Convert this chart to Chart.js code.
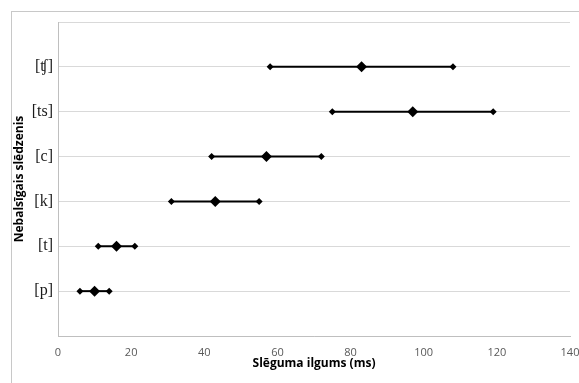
<!DOCTYPE html>
<html>
<head>
<meta charset="utf-8">
<script src="https://cdn.jsdelivr.net/npm/chart.js@4"></script>
<style>
  html, body { margin: 0; padding: 0; background: #fff; overflow: hidden; }
  #frame { position: absolute; left: 11px; top: 11px; width: 620px; height: 420px; border: 1px solid #c8c8c8; }
  #wrap { position: absolute; left: 0; top: 0; width: 579px; height: 383px; }
</style>
</head>
<body>
<div id="frame"></div>
<div id="wrap"><canvas id="c"></canvas></div>
<script>
  // bottom to top
  var categories = ['[p]', '[t]', '[k]', '[c]', '[ts]', '[ʧ]']
  var minVals = [6, 11, 31, 42, 75, 58]
  var meanVals = [10, 16, 43, 57, 97, 83]
  var maxVals = [14, 21, 55, 72, 119, 108]
  var xTicks = [0, 20, 40, 60, 80, 100, 120, 140]

  var datasets = categories.map(function (cat, i) {
    return {
      label: cat,
      showLine: true,
      borderColor: '#000',
      backgroundColor: '#000',
      borderWidth: 2,
      pointStyle: 'rectRot',
      pointRadius: [3.5, 5.5, 3.5],
      pointBorderWidth: 0,
      data: [
        { x: minVals[i], y: i + 1 },
        { x: meanVals[i], y: i + 1 },
        { x: maxVals[i], y: i + 1 },
      ],
    }
  })

  new Chart(document.getElementById('c'), {
    type: 'scatter',
    data: { datasets: datasets },
    options: {
      responsive: true,
      maintainAspectRatio: false,
      animation: false,
      layout: { padding: { top: 22, right: 9, left: 0, bottom: 0 } },
      plugins: { legend: { display: false }, tooltip: { enabled: false } },
      scales: {
        x: {
          type: 'linear',
          min: 0,
          max: 140,
          afterBuildTicks: function (s) {
            s.ticks = xTicks.map(function (v) { return { value: v } })
          },
          afterFit: function (s) {
            s.height = 47
            s.paddingLeft = 0
            s.paddingRight = 0
          },
          grid: { display: false, drawTicks: false },
          border: { display: true, color: '#bfbfbf', width: 1 },
          ticks: {
            padding: 10,
            maxRotation: 0,
            color: '#595959',
            font: { family: 'Open Sans', size: 11 },
          },
          title: {
            display: true,
            text: 'Slēguma ilgums (ms)',
            color: '#000',
            font: { family: 'Open Sans', size: 12, weight: 'bold' },
            padding: { top: 0, bottom: 12 },
          },
        },
        y: {
          type: 'linear',
          min: 0,
          max: 7,
          afterBuildTicks: function (s) {
            var t = []
            for (var v = 0; v <= 7; v++) t.push({ value: v })
            s.ticks = t
          },
          afterFit: function (s) {
            s.width = 58
            s.paddingTop = 0
            s.paddingBottom = 0
          },
          grid: { color: '#d9d9d9', drawTicks: false },
          border: { display: true, color: '#bfbfbf', width: 1 },
          ticks: {
            padding: 5,
            color: '#1a1a1a',
            font: { family: '"Liberation Serif", "DejaVu Serif", serif', size: 16 },
            callback: function (v) {
              return categories[v - 1] || ''
            },
          },
          title: {
            display: true,
            text: 'Nebalsīgais slēdzenis',
            color: '#000',
            font: { family: 'Open Sans', size: 12, weight: 'bold' },
            padding: { top: 12, bottom: 0 },
          },
        },
      },
    },
  })
</script>
</body>
</html>
